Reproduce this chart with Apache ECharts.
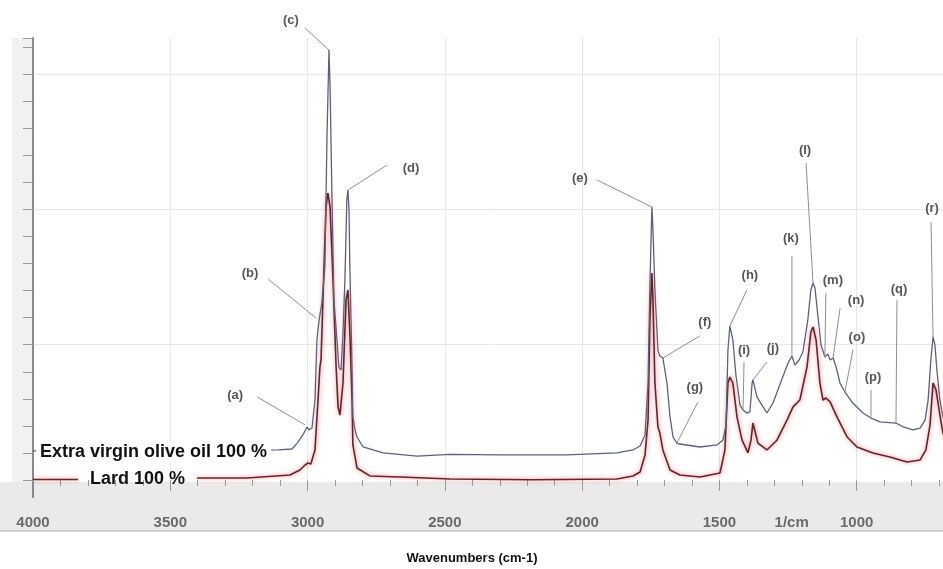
<!DOCTYPE html>
<html>
<head>
<meta charset="utf-8">
<title>FTIR spectra</title>
<script src="https://cdn.jsdelivr.net/npm/echarts@6/dist/echarts.min.js"></script>
<style>
  html, body { margin: 0; padding: 0; background: #fff; }
  #chart { width: 943px; height: 569px; }
</style>
</head>
<body>
<div id="chart"></div>
<script>
// spectra: wavenumber (cm-1) / absorbance (a.u.)
var oliveWave = [4000, 3800, 3600, 3400, 3200, 3108, 3057, 3038, 3017, 3002,
  2995, 2984, 2973, 2966, 2958, 2948, 2937, 2929, 2922, 2918,
  2911, 2904, 2893, 2886, 2878, 2871, 2864, 2857, 2853, 2849,
  2846, 2838, 2835, 2827, 2820, 2798, 2725, 2601, 2481, 2299,
  2055, 1873, 1815, 1789, 1771, 1760, 1753, 1746, 1742, 1735,
  1724, 1717, 1706, 1691, 1680, 1669, 1655, 1644, 1571, 1509,
  1487, 1476, 1469, 1462, 1451, 1440, 1425, 1414, 1400, 1389,
  1381, 1378, 1363, 1341, 1327, 1305, 1279, 1250, 1236, 1225,
  1210, 1196, 1178, 1167, 1159, 1152, 1141, 1130, 1116, 1105,
  1097, 1086, 1075, 1061, 1043, 1014, 977, 948, 915, 857,
  831, 795, 769, 751, 740, 730, 722, 715, 708, 697,
  686, 660, 624];
var oliveAbs = [0.215, 0.216, 0.218, 0.219, 0.221, 0.222, 0.229, 0.273, 0.333, 0.392,
  0.370, 0.384, 0.591, 1.035, 1.183, 1.308, 1.574, 2.565, 3.178, 2.905,
  2.07, 1.33, 1.035, 0.835, 0.813, 1.087, 1.478, 2.07, 2.143, 1.996,
  1.574, 0.835, 0.466, 0.370, 0.318, 0.244, 0.2, 0.177, 0.19, 0.185,
  0.185, 0.2, 0.222, 0.251, 0.333, 0.717, 1.456, 2.018, 1.848, 1.404,
  0.961, 0.916, 0.902, 0.717, 0.466, 0.318, 0.273, 0.266, 0.244, 0.259,
  0.296, 0.407, 0.961, 1.138, 1.035, 0.776, 0.554, 0.517, 0.495, 0.503,
  0.717, 0.739, 0.613, 0.540, 0.495, 0.569, 0.710, 0.865, 0.916, 0.850,
  0.887, 0.946, 1.183, 1.404, 1.456, 1.419, 1.205, 0.998, 0.909, 0.931,
  0.887, 0.902, 0.835, 0.717, 0.650, 0.569, 0.495, 0.458, 0.429, 0.421,
  0.392, 0.37, 0.384, 0.443, 0.591, 0.887, 1.057, 0.998, 0.813, 0.591,
  0.466, 0.333, 0.26];

// lard line is hidden behind its label between ~3830 and ~3400
var lardWave = [4000, 3836, 3620, 3403, 3221, 3064, 3028, 3009, 2998, 2988,
  2973, 2962, 2955, 2951, 2944, 2933, 2926, 2918, 2907, 2896,
  2889, 2882, 2871, 2860, 2853, 2846, 2838, 2835, 2820, 2773,
  2663, 2481, 2179, 1873, 1815, 1789, 1771, 1760, 1753, 1746,
  1742, 1735, 1724, 1717, 1706, 1680, 1644, 1571, 1498, 1480,
  1469, 1462, 1451, 1436, 1418, 1396, 1385, 1378, 1367, 1360,
  1327, 1290, 1254, 1232, 1207, 1181, 1167, 1159, 1148, 1134,
  1123, 1112, 1097, 1072, 1035, 999, 941, 879, 817, 769,
  748, 733, 722, 711, 697, 686, 642];
var lardAbs = [0.004, 0.004, '-', 0.015, 0.015, 0.037, 0.074, 0.111, 0.126, 0.118,
  0.222, 0.591, 0.835, 0.887, 1.330, 2.018, 2.121, 2.018, 1.456, 0.835,
  0.540, 0.480, 0.717, 1.330, 1.404, 1.087, 0.591, 0.259, 0.089, 0.03,
  0.022, 0.007, 0.002, 0.007, 0.03, 0.059, 0.185, 0.443, 1.205, 1.530,
  1.330, 0.717, 0.392, 0.347, 0.222, 0.074, 0.037, 0.022, 0.052, 0.222,
  0.717, 0.761, 0.717, 0.466, 0.296, 0.2, 0.296, 0.421, 0.333, 0.273,
  0.222, 0.296, 0.443, 0.540, 0.591, 0.835, 1.094, 1.131, 1.035, 0.717,
  0.591, 0.606, 0.577, 0.466, 0.318, 0.244, 0.2, 0.17, 0.133, 0.148,
  0.222, 0.407, 0.717, 0.665, 0.48, 0.347, 0.185];

var xTickLabels = [4000, 3500, 3000, 2500, 2000, 1500, 1000, 500];

// band labels and where their leader lines touch the olive oil curve
var peakNames = ['(a)', '(b)', '(c)', '(d)', '(e)', '(f)', '(g)', '(h)', '(i)',
  '(j)', '(k)', '(l)', '(m)', '(n)', '(o)', '(p)', '(q)', '(r)'];
var peakWave = [3009, 2969, 2922, 2853, 1746, 1706, 1655, 1462, 1414,
  1378, 1236, 1159, 1116, 1086, 1043, 948, 857, 722];
var peakAbs = [0.407, 1.197, 3.178, 2.143, 2.018, 0.902, 0.273, 1.138, 0.517,
  0.739, 0.916, 1.456, 0.909, 0.902, 0.650, 0.458, 0.421, 1.057];

// pixel offsets from the tip: text centre, then start of the leader line
var textOffset = [[-70, -30], [-66, -45], [-38, -30], [63, -22], [-72, -29], [42, -36],
  [18, -56], [20, -51], [1, -60], [20, -32], [-1, -118], [-8, -133], [8, -77],
  [23, -58], [12, -55], [2, -41], [3, -134], [-1, -129]];
var lineOffset = [[-48, -28], [-48, -39], [-24, -22], [39, -25], [-55, -27], [37, -22],
  [21, -41], [17, -36], [1, -48], [14, -18], [0, -100], [-7, -120], [1, -64],
  [7, -50], [8, -42], [0, -28], [1, -123], [-2, -115]];

function pairs(xs, ys) {
  return xs.map(function (x, i) { return [x, ys[i]]; });
}

var chart = echarts.init(document.getElementById('chart'));
var font = 'Liberation Sans, Arial, sans-serif';

var option = {
  animation: false,
  backgroundColor: '#fff',
  // the axis runs on to 500 cm-1, past the right edge of the picture
  grid: { left: 33, top: 38, right: -51, bottom: 89, containLabel: false, outerBoundsMode: 'none' },
  xAxis: {
    type: 'value',
    inverse: true,
    min: 500,
    max: 4000,
    interval: 500,
    offset: 23,
    axisLine: { show: false },
    axisTick: { length: 11, lineStyle: { color: '#9a9a9a' } },
    minorTick: { show: true, splitNumber: 5, length: 6, lineStyle: { color: '#9a9a9a' } },
    axisLabel: {
      margin: 12, fontSize: 15, fontWeight: 'bold', color: '#6a6a6a', fontFamily: font,
      hideOverlap: false,
      formatter: function (v) { return xTickLabels.indexOf(v) >= 0 ? String(v) : ''; }
    },
    splitLine: { show: true, showMinLine: false, lineStyle: { color: '#e6e6e6' } }
  },
  yAxis: [{
    type: 'value',
    min: 0,
    max: 3.2668,
    interval: 0.2,
    axisLine: { show: true, lineStyle: { color: '#8a8a8a', width: 2 } },
    axisTick: { show: true, length: 10, lineStyle: { color: '#9a9a9a' } },
    axisLabel: { show: false },
    splitLine: { show: false }
  }, {
    type: 'value',
    min: 0,
    max: 3.2668,
    interval: 1,
    axisLine: { show: false },
    axisTick: { show: false },
    axisLabel: { show: false },
    splitLine: { show: true, showMaxLine: false, showMinLine: false, lineStyle: { color: '#e6e6e6' } }
  }],
  series: [{
    name: 'Lard 100 %',
    type: 'line',
    data: pairs(lardWave, lardAbs),
    showSymbol: false,
    symbol: 'none',
    clip: false,
    connectNulls: false,
    lineStyle: { color: '#6e1f2a', width: 1.6, shadowColor: 'rgba(235,40,40,0.6)', shadowBlur: 4 },
    z: 3
  }, {
    name: 'Extra virgin olive oil 100 %',
    type: 'line',
    data: pairs(oliveWave, oliveAbs),
    showSymbol: false,
    symbol: 'none',
    clip: false,
    lineStyle: { color: '#5b6080', width: 1.3 },
    z: 4
  }]
};
chart.setOption(option);

// decorations placed through the axes
var origin = chart.convertToPixel({ xAxisIndex: 0, yAxisIndex: 0 }, [4000, 0]);
var els = [];
els.push({ type: 'rect', z: -10, shape: { x: 12, y: 38, width: origin[0] - 12, height: origin[1] + 2 - 38 },
  style: { fill: '#f1f1f1' }, silent: true });
els.push({ type: 'rect', z: -10, shape: { x: 0, y: origin[1] + 2, width: 943, height: 49 },
  style: { fill: '#eaeaea' }, silent: true });
els.push({ type: 'line', z: -9, shape: { x1: 0, y1: origin[1] + 51, x2: 943, y2: origin[1] + 51 },
  style: { stroke: '#c4c4c4', lineWidth: 1.5 }, silent: true });
els.push({ type: 'line', z: 5, shape: { x1: origin[0], y1: origin[1], x2: origin[0], y2: origin[1] + 18 },
  style: { stroke: '#8a8a8a', lineWidth: 2 }, silent: true });

for (var i = 0; i < peakNames.length; i++) {
  var tip = chart.convertToPixel({ xAxisIndex: 0, yAxisIndex: 0 }, [peakWave[i], peakAbs[i]]);
  els.push({ type: 'line', z: 20, silent: true,
    shape: { x1: tip[0] + lineOffset[i][0], y1: tip[1] + lineOffset[i][1], x2: tip[0], y2: tip[1] },
    style: { stroke: '#8e8e8e', lineWidth: 1 } });
  els.push({ type: 'text', z: 21, silent: true,
    style: { text: peakNames[i], x: tip[0] + textOffset[i][0], y: tip[1] + textOffset[i][1],
      font: 'bold 13px ' + font, fill: '#555', align: 'center', verticalAlign: 'middle' } });
}

els.push({ type: 'text', z: 30, silent: true,
  style: { text: 'Extra virgin olive oil 100 %', x: 36, y: origin[1] - 28,
    font: 'bold 18px ' + font, fill: '#111', align: 'left', verticalAlign: 'middle',
    backgroundColor: '#fff', padding: [1, 4, 1, 4] } });
els.push({ type: 'text', z: 30, silent: true,
  style: { text: 'Lard 100 %', x: 90, y: origin[1] - 1,
    font: 'bold 18px ' + font, fill: '#111', align: 'left', verticalAlign: 'middle' } });

var cm = chart.convertToPixel({ xAxisIndex: 0, yAxisIndex: 0 }, [1237, 0]);
els.push({ type: 'text', z: 30, silent: true,
  style: { text: '1/cm', x: cm[0], y: origin[1] + 43, font: 'bold 15px ' + font, fill: '#6a6a6a',
    align: 'center', verticalAlign: 'middle' } });
els.push({ type: 'text', z: 30, silent: true,
  style: { text: 'Wavenumbers (cm-1)', x: 472, y: 558, font: 'bold 13px ' + font, fill: '#111',
    align: 'center', verticalAlign: 'middle' } });

chart.setOption({ graphic: { elements: els } });
</script>
</body>
</html>
